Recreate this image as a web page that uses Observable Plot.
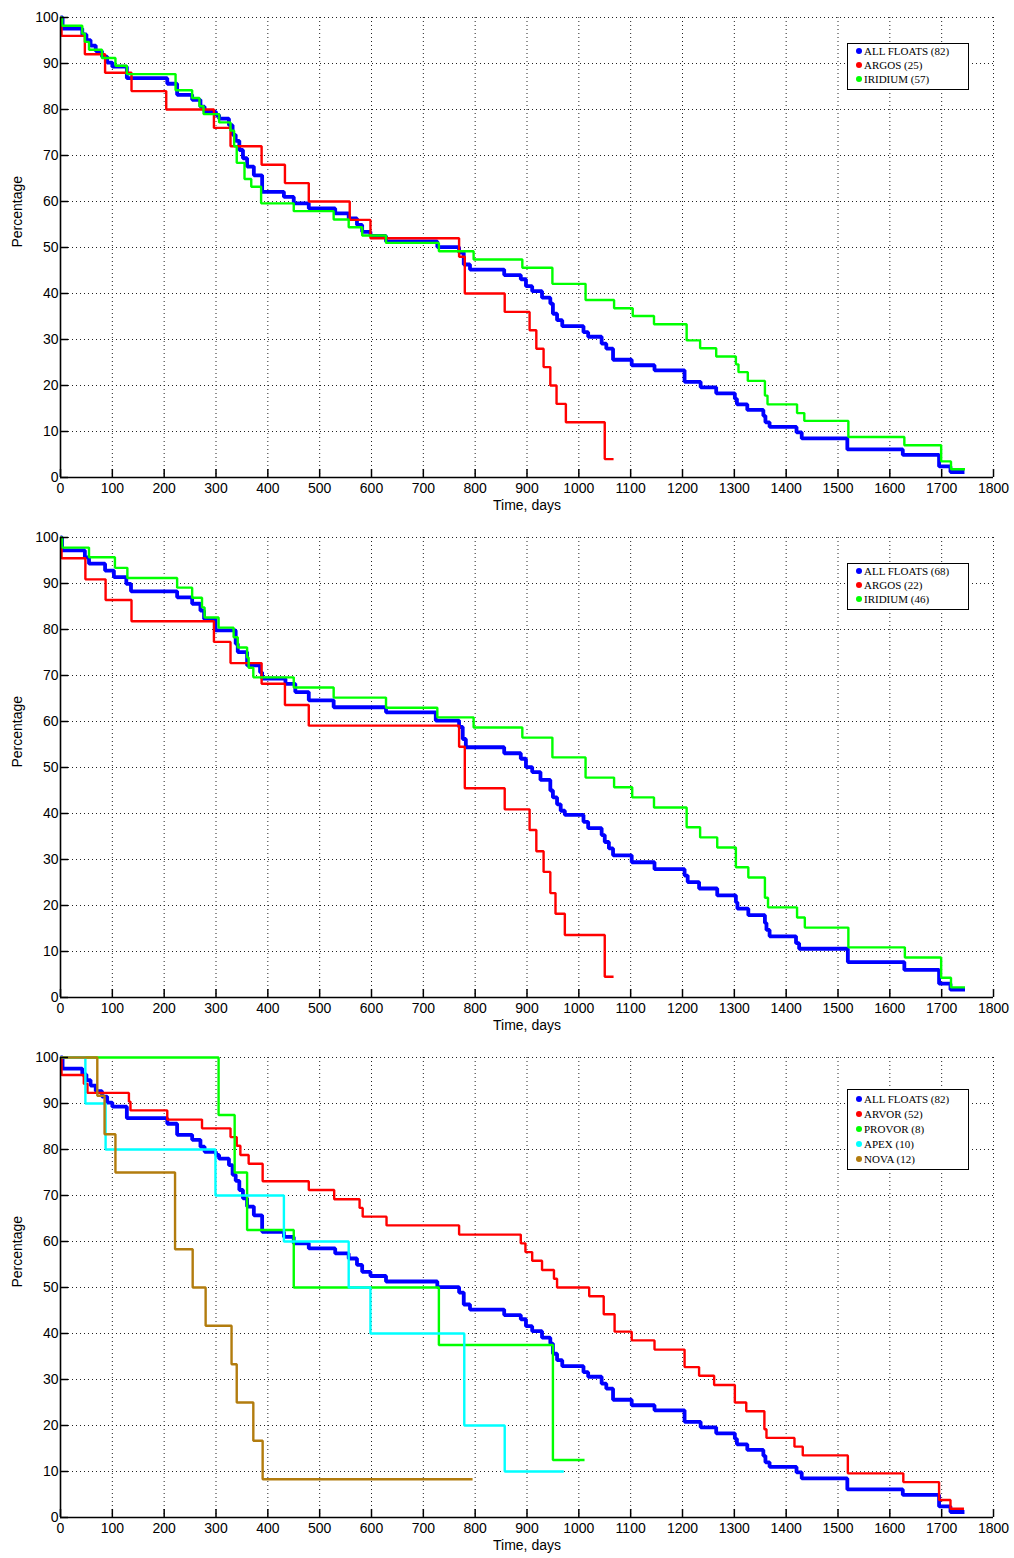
<!DOCTYPE html>
<html><head><meta charset="utf-8">
<script src="https://cdn.jsdelivr.net/npm/d3@7"></script>
<script src="https://cdn.jsdelivr.net/npm/@observablehq/plot@0.6"></script>
<style>
body{margin:0;background:#fff;}
#root{position:relative;width:1014px;}
.panel{position:relative;width:1014px;height:520px;}
.panel svg{display:block;}
.legend{position:absolute;left:847px;width:122px;box-sizing:border-box;border:1.5px solid #000;background:#fff;font-family:"Liberation Serif","Times New Roman",serif;font-size:11px;color:#000;}
.legend .row{display:flex;align-items:center;white-space:nowrap;}
.legend .dot{width:6px;height:6px;border-radius:50%;margin-left:8px;margin-right:2px;flex:none;}
</style>
</head><body><div id="root"></div>
<script>
const xTicks = [0,100,200,300,400,500,600,700,800,900,1000,1100,1200,1300,1400,1500,1600,1700,1800];
const yTicks = [0,10,20,30,40,50,60,70,80,90,100];
const xLabel = "Time, days";
const yLabel = "Percentage";

// ---- Panel 1 (telemetry) ----
const p1Names = ["ALL FLOATS (82)","ARGOS (25)","IRIDIUM (57)"];
const p1Colors = ["#0000ff","#ff0000","#00ff00"];
const p1All = [[0,100],[4,97.6],[42,96.3],[50,95.1],[58,93.9],[68,92.7],[80,91.5],[90,90.2],[100,89.3],[128,86.8],[206,85.6],[225,83.2],[254,82.1],[270,80.6],[278,79.5],[300,78.8],[306,78.0],[325,76.6],[332,74.5],[338,73.2],[345,71.2],[352,69.4],[360,67.6],[373,65.7],[389,62.1],[431,61.0],[450,59.6],[479,58.5],[530,57.4],[556,56.3],[572,54.9],[582,53.4],[598,52.5],[628,51.3],[727,50.1],[769,48.9],[778,46.3],[790,45.2],[856,44.0],[888,43.1],[898,41.6],[910,40.5],[929,39.1],[945,37.8],[950,35.6],[958,34.2],[968,32.9],[1009,31.6],[1018,30.6],[1044,29.1],[1053,28.0],[1066,25.6],[1102,24.4],[1146,23.3],[1204,20.8],[1235,19.6],[1265,18.3],[1301,17.1],[1305,15.9],[1325,14.7],[1356,13.4],[1360,12.0],[1368,11.0],[1420,9.8],[1430,8.5],[1518,6.1],[1625,4.9],[1695,2.4],[1717,1.2],[1744,1.2]];
const p1Argos = [[0,100],[2,96],[47,92],[86,88],[137,84],[204,80],[296,76],[328,72],[388,68],[433,64],[479,60],[558,56],[598,52],[769,48],[780,40],[857,36],[905,32],[918,28],[932,24],[945,20],[957,16],[975,12],[1050,4],[1067,4]];
const p1Iridium = [[0,100],[3,98.2],[42,96.5],[47,94.7],[55,93.0],[80,91.2],[106,89.5],[128,87.7],[222,84.2],[254,82.5],[268,80.7],[276,79.0],[306,77.2],[328,75.4],[335,72.0],[340,68.4],[355,64.9],[368,63.2],[387,59.6],[450,57.9],[527,56.1],[556,54.4],[582,52.6],[628,51.0],[730,49.2],[797,47.4],[891,45.6],[949,42.1],[1013,38.6],[1068,36.8],[1104,35.1],[1145,33.3],[1208,29.8],[1234,28.1],[1265,26.3],[1303,24.6],[1308,22.9],[1326,21.0],[1359,17.8],[1364,15.9],[1421,14.0],[1435,12.3],[1520,8.8],[1628,7.0],[1699,3.5],[1718,1.8],[1745,1.8]];

// ---- Panel 2 ----
const p2Names = ["ALL FLOATS (68)","ARGOS (22)","IRIDIUM (46)"];
const p2Colors = ["#0000ff","#ff0000","#00ff00"];
const p2All = [[0,100],[3,97.2],[47,95.7],[55,94.3],[86,92.8],[103,91.4],[127,89.9],[136,88.3],[225,87.0],[254,85.6],[270,84.1],[277,82.3],[299,79.8],[338,76.9],[342,75.1],[360,72.2],[385,70.7],[389,69.3],[434,68.2],[453,66.4],[479,64.6],[527,63.1],[628,62.0],[724,60.2],[769,58.8],[776,56.2],[782,54.4],[856,53.1],[888,51.9],[898,50.1],[910,49.0],[926,47.3],[945,45.0],[950,43.5],[958,42.0],[965,40.6],[973,39.7],[1009,38.2],[1018,36.8],[1044,35.3],[1050,33.8],[1058,32.4],[1066,30.9],[1102,29.4],[1146,27.9],[1204,26.5],[1210,25.1],[1232,23.7],[1267,22.2],[1303,20.7],[1306,19.3],[1327,17.9],[1359,16.2],[1362,14.7],[1368,13.3],[1419,11.8],[1425,10.6],[1519,7.7],[1628,6.0],[1695,3.0],[1717,1.7],[1745,1.7]];
const p2Argos = [[0,100],[2,95.5],[48,90.9],[87,86.4],[137,81.8],[296,77.3],[328,72.7],[388,68.2],[433,63.6],[479,59.1],[769,54.5],[780,45.5],[857,40.9],[905,36.4],[918,31.8],[932,27.3],[945,22.7],[955,18.2],[973,13.6],[1050,4.5],[1067,4.5]];
const p2Iridium = [[0,100],[3,97.8],[55,95.7],[105,93.4],[129,91.2],[225,89.1],[254,86.9],[273,84.8],[278,82.6],[305,80.4],[334,78.3],[342,76.1],[360,73.9],[363,71.7],[372,69.6],[450,67.4],[527,65.2],[628,63.0],[727,60.9],[797,58.7],[891,56.5],[949,52.2],[1013,47.8],[1068,45.7],[1103,43.5],[1145,41.3],[1208,37.0],[1234,34.8],[1267,32.6],[1303,28.3],[1327,26.1],[1359,21.7],[1365,19.6],[1421,17.4],[1436,15.2],[1520,10.9],[1629,8.7],[1699,4.3],[1718,2.2],[1745,2.2]];

// ---- Panel 3 (float type) ----
const p3Names = ["ALL FLOATS (82)","ARVOR (52)","PROVOR (8)","APEX (10)","NOVA (12)"];
const p3Colors = ["#0000ff","#ff0000","#00ff00","#00ffff","#b27c0e"];
const p3All = p1All;
const p3Arvor = [[0,100],[2,96.2],[45,94.3],[52,92.3],[132,90.4],[135,88.5],[206,86.5],[273,84.6],[328,82.7],[340,80.8],[347,78.8],[363,76.9],[390,73.1],[479,71.2],[528,69.2],[577,67.3],[583,65.4],[629,63.5],[769,61.5],[888,59.6],[897,57.7],[910,55.8],[929,53.8],[952,51.9],[958,50.0],[1020,48.1],[1048,44.2],[1069,40.4],[1102,38.5],[1146,36.5],[1204,32.7],[1232,30.8],[1261,28.8],[1301,25.0],[1323,23.1],[1358,19.2],[1362,17.3],[1416,15.4],[1432,13.5],[1519,9.6],[1626,7.7],[1695,3.8],[1717,1.9],[1743,1.9]];
const p3Provor = [[0,100],[305,87.5],[336,75],[360,62.5],[450,50],[730,37.5],[950,12.5],[1011,12.5]];
const p3Apex = [[0,100],[48,90],[87,80],[299,70],[431,60],[556,50],[598,40],[779,20],[857,10],[971,10]];
const p3Nova = [[0,100],[71,91.7],[85,83.3],[106,75],[221,58.3],[255,50],[280,41.7],[330,33.3],[340,25],[372,16.7],[390,8.3],[795,8.3]];

const panels = [
  {names:p1Names, colors:p1Colors, series:[p1All,p1Argos,p1Iridium], legendTop:43, rowH:14, padTop:0},
  {names:p2Names, colors:p2Colors, series:[p2All,p2Argos,p2Iridium], legendTop:43, rowH:14, padTop:0},
  {names:p3Names, colors:p3Colors, series:[p3All,p3Arvor,p3Provor,p3Apex,p3Nova], legendTop:49, rowH:14.9, padTop:2}
];

const root = document.getElementById("root");
for (const p of panels) {
  const div = document.createElement("div");
  div.className = "panel";
  const lines = p.series.map((pts, i) => Plot.line(pts, {
    x: d => d[0], y: d => d[1], curve: "step-after",
    stroke: p.colors[i], strokeWidth: i === 0 ? 3.8 : 2.4, strokeLinejoin: "miter", strokeLinecap: "butt"
  }));
  const chart = Plot.plot({
    width: 1014, height: 520,
    marginLeft: 60, marginRight: 21, marginTop: 17, marginBottom: 43,
    style: {fontFamily: "'Liberation Sans', Arial, sans-serif", fontSize: "14px", color: "#000", background: "#fff"},
    x: {domain: [0, 1800]},
    y: {domain: [0, 100]},
    marks: [
      Plot.ruleX(xTicks, {stroke: "#222", strokeWidth: 1, strokeDasharray: "1,3"}),
      Plot.ruleY(yTicks, {stroke: "#222", strokeWidth: 1, strokeDasharray: "1,3"}),
      ...lines,
      Plot.ruleX(xTicks, {y1: 0, y2: 1.75, stroke: "#000", strokeWidth: 1.5}),
      Plot.ruleY(yTicks, {x1: 0, x2: 15.5, stroke: "#000", strokeWidth: 1.5}),
      Plot.ruleY([0], {stroke: "#000", strokeWidth: 1.6}),
      Plot.ruleX([0], {stroke: "#000", strokeWidth: 1.6}),
      Plot.axisX({ticks: xTicks, tickSize: 0, tickPadding: 6, tickFormat: d => String(d), label: null, fontSize: 14}),
      Plot.axisY({ticks: yTicks, tickSize: 0, tickPadding: 2, tickFormat: d => String(d), label: null, fontSize: 14}),
      Plot.text([xLabel], {frameAnchor: "bottom", dy: 32, fontSize: 14, fill: "#000"}),
      Plot.text([yLabel], {frameAnchor: "left", dx: -43, rotate: -90, fontSize: 14, fill: "#000"})
    ]
  });
  div.appendChild(chart);
  const leg = document.createElement("div");
  leg.className = "legend";
  leg.style.top = p.legendTop + "px";
  leg.style.paddingTop = p.padTop + "px";
  leg.style.paddingBottom = "3px";
  p.names.forEach((n, i) => {
    const row = document.createElement("div");
    row.className = "row";
    row.style.height = p.rowH + "px";
    const dot = document.createElement("span");
    dot.className = "dot";
    dot.style.background = p.colors[i];
    const t = document.createElement("span");
    t.textContent = n;
    row.appendChild(dot); row.appendChild(t);
    leg.appendChild(row);
  });
  div.appendChild(leg);
  root.appendChild(div);
}
</script>
</body></html>
